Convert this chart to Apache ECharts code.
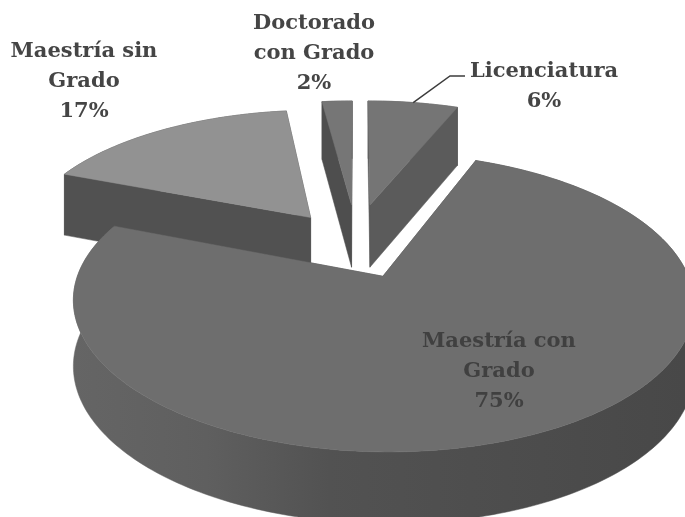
<!DOCTYPE html>
<html>
<head>
<meta charset="utf-8">
<script src="https://cdn.jsdelivr.net/npm/echarts@6/dist/echarts.min.js"></script>
<style>html,body{margin:0;padding:0;background:#fff}#c{width:685px;height:517px}</style>
</head>
<body>
<div id="c"></div>
<script>
// Data
const categories = ['Licenciatura', 'Maestría con\nGrado', 'Maestría sin\nGrado', 'Doctorado\ncon Grado'];
const values = [6, 75, 17, 2];

// Styles and layout (separate from data)
const view = { x0: 356, y0: 248, A: 295, B: 135, p: 0.17, depth: 64 };
const explode = [[0.05, -0.337], [0.088, 0.202], [-0.16, -0.235], [-0.016, -0.337]];
const topColors = ['#757575', '#6e6e6e', '#929292', '#767676'];
const wallColors = ['#5b5b5b', '#4d4d4d', '#515151', '#4e4e4e'];
const layerBase = [10, 30, 10, 10];
const labelAnchors = [[544, 87], [499, 372], [84, 82], [314, 54]];
const labelColors = ['#454545', '#404040', '#454545', '#454545'];
const leaderElbow = [[450, 76], [465, 76]];
const total = values.reduce((a, b) => a + b, 0);

function project(u, v, down) {
  const w = 1 - view.p * v;
  const y = view.y0 + view.B * v / w + (down ? view.depth / Math.sqrt(w) : 0);
  return [view.x0 + view.A * u / w, y];
}
function slicePoint(i, t, down) {
  const e = explode[i];
  return project(e[0] + Math.sin(t), e[1] - Math.cos(t), down);
}
function apex(i, down) { return project(explode[i][0], explode[i][1], down); }
function angles(i) {
  let before = 0;
  for (let k = 0; k < i; k++) before += values[k];
  return [before / total * 2 * Math.PI, (before + values[i]) / total * 2 * Math.PI];
}
function arcPts(i, a0, a1, down) {
  const n = Math.max(8, Math.round((a1 - a0) / 0.02));
  const pts = [];
  for (let k = 0; k <= n; k++) pts.push(slicePoint(i, a0 + (a1 - a0) * k / n, down));
  return pts;
}
function poly(points, fill, z2) {
  return { type: 'polygon', z2, shape: { points }, style: { fill, stroke: fill, lineWidth: 0.5 } };
}

function renderItem(params, api) {
  const i = params.dataIndex;
  const [a0, a1] = angles(i);
  const z = layerBase[i];
  const top = arcPts(i, a0, a1, false);
  const bottom = arcPts(i, a0, a1, true);
  const walls = [];
  const A = apex(i, false), Ad = apex(i, true);
  const s0 = slicePoint(i, a0, false), s0d = slicePoint(i, a0, true);
  const s1 = slicePoint(i, a1, false), s1d = slicePoint(i, a1, true);
  const radials = [[A, s0, s0d, Ad], [A, s1, s1d, Ad]];
  radials.sort((p, q) => (p[1][1] - q[1][1]));
  radials.forEach((r, k) => walls.push(poly(r, wallColors[i], z + k)));
  let arcFill = wallColors[i];
  if (a1 - a0 > Math.PI) {
    arcFill = new echarts.graphic.LinearGradient(72, 0, 685, 0, [
      { offset: 0, color: '#656565' },
      { offset: 0.22, color: '#5f5f5f' },
      { offset: 0.42, color: '#525252' },
      { offset: 1, color: '#484848' }
    ], true);
  }
  walls.unshift(poly(top.concat(bottom.slice().reverse()), arcFill, z - 1));
  const children = walls.concat([poly([A].concat(top), topColors[i], z + 3)]);

  const anchor = labelAnchors[i];
  children.push({
    type: 'text', z2: 50,
    style: {
      text: categories[i] + '\n' + api.value(0) + '%',
      x: anchor[0], y: anchor[1], align: 'center', verticalAlign: 'middle',
      textAlign: 'center', textVerticalAlign: 'middle',
      fontFamily: 'DejaVu Serif', fontWeight: 'bold', fontSize: 21, lineHeight: 30,
      fill: labelColors[i]
    }
  });
  if (i === 0) {
    const mid = slicePoint(0, (a0 + a1) / 2, false);
    children.push({
      type: 'polyline', z2: 40,
      shape: { points: [mid].concat(leaderElbow) },
      style: { fill: 'none', stroke: '#3c3c3c', lineWidth: 1.5 }
    });
  }
  return { type: 'group', children };
}

const chart = echarts.init(document.getElementById('c'), null, { renderer: 'canvas' });
chart.setOption({
  backgroundColor: '#ffffff',
  animation: false,
  series: [{
    type: 'custom',
    coordinateSystem: 'none',
    silent: true,
    clip: false,
    renderItem,
    data: values.map(v => [v])
  }]
});
</script>
</body>
</html>
